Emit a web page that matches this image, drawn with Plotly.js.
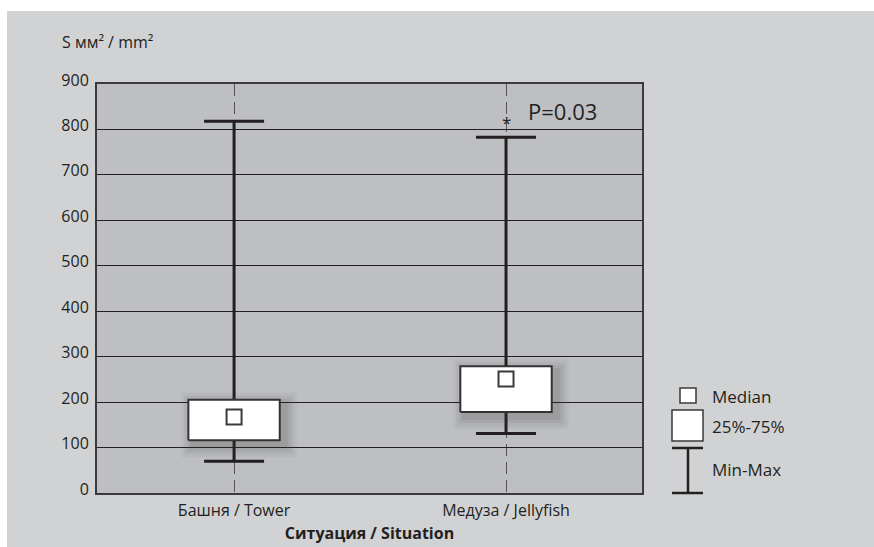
<!DOCTYPE html>
<html>
<head>
<meta charset="utf-8">
<script src="https://cdn.plot.ly/plotly-3.0.1.min.js"></script>
<style>html,body{margin:0;padding:0;background:#fff;}#chart{width:874px;height:547px;}</style>
</head>
<body>
<div id="chart"></div>
<script>
// ---- data ----
var categories = ['Башня / Tower', 'Медуза / Jellyfish'];
var minVals    = [70, 131];
var q1Vals     = [116, 178];
var medianVals = [167, 251];
var q3Vals     = [205, 279];
var maxVals    = [818, 783];
var yTicks     = [0, 100, 200, 300, 400, 500, 600, 700, 800, 900];
var pLabel     = 'P=0.03';

// ---- style ----
var FONT = '"Open Sans", "Noto Sans", sans-serif';
var INK = '#231f20';
var xIdx = categories.map(function (c, i) { return i; });
var BOX_HALF = 0.168;           // half box width (category units)
var PX_X = 1 / 272, PX_Y = 900 / 409;

function rectPath(halfW, dxPx, dyPx, growPx) {
  var xs = [], ys = [];
  xIdx.forEach(function (i) {
    var x0 = i - halfW - growPx * PX_X + dxPx * PX_X;
    var x1 = i + halfW + growPx * PX_X + dxPx * PX_X;
    var y0 = q1Vals[i] - growPx * PX_Y - dyPx * PX_Y;
    var y1 = q3Vals[i] + growPx * PX_Y - dyPx * PX_Y;
    xs.push(x0, x1, x1, x0, x0, null);
    ys.push(y0, y0, y1, y1, y0, null);
  });
  return {x: xs, y: ys};
}

var traces = [];
// whiskers (min-max with caps)
traces.push({
  type: 'scatter', mode: 'markers', x: xIdx, y: minVals,
  marker: {size: 1, color: 'rgba(0,0,0,0)'},
  error_y: {
    type: 'data', symmetric: false,
    array: xIdx.map(function (i) { return maxVals[i] - minVals[i]; }),
    arrayminus: xIdx.map(function () { return 0; }),
    width: 30, thickness: 3, color: INK
  },
  hoverinfo: 'skip', showlegend: false
});
// soft shadow
[[12, 0.05], [9, 0.06], [6, 0.07], [3, 0.08]].forEach(function (s) {
  var r = rectPath(BOX_HALF, 5, 5, s[0]);
  traces.push({
    type: 'scatter', mode: 'lines', x: r.x, y: r.y, fill: 'toself',
    fillcolor: 'rgba(50,50,50,' + s[1] + ')', line: {width: 0},
    hoverinfo: 'skip', showlegend: false
  });
});
// boxes (25%-75%)
var b = rectPath(BOX_HALF, 0, 0, 0);
traces.push({
  type: 'scatter', mode: 'lines', x: b.x, y: b.y, fill: 'toself',
  fillcolor: '#ffffff', line: {color: '#333333', width: 2},
  hoverinfo: 'skip', showlegend: false
});
// medians
traces.push({
  type: 'scatter', mode: 'markers', x: xIdx, y: medianVals,
  marker: {symbol: 'square', size: 15, color: '#ffffff', line: {color: '#3a3a3a', width: 2}},
  hoverinfo: 'skip', showlegend: false
});

var W = 545, H = 409, L = 97, T = 84;
function px2x(px) { return (px - L) / W; }
function px2y(py) { return (T + H - py) / H; }

var shapes = [
  // white page margins
  {type: 'rect', xref: 'paper', yref: 'paper', x0: px2x(-5), x1: px2x(880), y0: px2y(-5), y1: px2y(11),
   fillcolor: '#ffffff', line: {width: 0}, layer: 'above'},
  {type: 'rect', xref: 'paper', yref: 'paper', x0: px2x(-5), x1: px2x(7), y0: px2y(-5), y1: px2y(560),
   fillcolor: '#ffffff', line: {width: 0}, layer: 'above'},
  // legend glyphs
  {type: 'rect', xref: 'paper', yref: 'paper', x0: px2x(680), x1: px2x(696), y0: px2y(403), y1: px2y(388),
   fillcolor: '#ffffff', line: {color: '#3a3a3a', width: 1.5}},
  {type: 'rect', xref: 'paper', yref: 'paper', x0: px2x(672), x1: px2x(703), y0: px2y(441), y1: px2y(410),
   fillcolor: '#ffffff', line: {color: '#3a3a3a', width: 1.5}},
  {type: 'line', xref: 'paper', yref: 'paper', x0: px2x(672), x1: px2x(703), y0: px2y(448), y1: px2y(448),
   line: {color: INK, width: 2.5}},
  {type: 'line', xref: 'paper', yref: 'paper', x0: px2x(672), x1: px2x(703), y0: px2y(493), y1: px2y(493),
   line: {color: INK, width: 2.5}},
  {type: 'line', xref: 'paper', yref: 'paper', x0: px2x(688), x1: px2x(688), y0: px2y(448), y1: px2y(493),
   line: {color: INK, width: 2.5}}
];

var annFont = {family: FONT, size: 16, color: INK};
var annotations = [
  {xref: 'paper', yref: 'paper', x: px2x(60), y: px2y(42), xanchor: 'left', yanchor: 'middle',
   text: 'S мм² / mm²', showarrow: false, font: annFont},
  {xref: 'x', yref: 'y', x: 1, y: 815, xanchor: 'center', yanchor: 'middle',
   text: '*', showarrow: false, font: {family: FONT, size: 17, color: INK}},
  {xref: 'x', yref: 'y', x: 1.072, y: 841, xanchor: 'left', yanchor: 'middle',
   text: pLabel, showarrow: false, font: {family: FONT, size: 22, color: INK}},
  {xref: 'paper', yref: 'paper', x: px2x(710), y: px2y(396), xanchor: 'left', yanchor: 'middle',
   text: 'Median', showarrow: false, font: {family: FONT, size: 17, color: INK}},
  {xref: 'paper', yref: 'paper', x: px2x(710), y: px2y(426), xanchor: 'left', yanchor: 'middle',
   text: '25%-75%', showarrow: false, font: {family: FONT, size: 17, color: INK}},
  {xref: 'paper', yref: 'paper', x: px2x(710), y: px2y(469), xanchor: 'left', yanchor: 'middle',
   text: 'Min-Max', showarrow: false, font: {family: FONT, size: 17, color: INK}}
];

var layout = {
  width: 874, height: 547,
  margin: {l: L, r: 874 - L - W, t: T, b: 547 - T - H, pad: 0},
  paper_bgcolor: '#d1d2d4',
  plot_bgcolor: '#bebfc2',
  showlegend: false,
  font: {family: FONT, size: 16, color: INK},
  xaxis: {
    range: [-0.504, 1.5], tickvals: xIdx, ticktext: categories,
    showgrid: true, gridcolor: '#555555', gridwidth: 1, griddash: '12px,6px',
    zeroline: false, showline: true, mirror: true, linecolor: '#3a3a3a', linewidth: 2,
    ticks: '', ticklabelstandoff: 2, tickfont: {family: FONT, size: 16, color: INK},
    title: {text: 'Ситуация / Situation', standoff: 8, font: {family: FONT, size: 16, color: INK, weight: 'bold'}},
    fixedrange: true
  },
  yaxis: {
    range: [0, 900], tickvals: yTicks,
    showgrid: true, gridcolor: INK, gridwidth: 1,
    zeroline: false, showline: true, mirror: true, linecolor: '#3a3a3a', linewidth: 2,
    ticks: '', ticklabelstandoff: 3, ticklabelshift: -4, tickfont: {family: FONT, size: 16, color: INK},
    fixedrange: true
  },
  shapes: shapes,
  annotations: annotations
};

Plotly.newPlot('chart', traces, layout, {displayModeBar: false, staticPlot: true});
</script>
</body>
</html>
